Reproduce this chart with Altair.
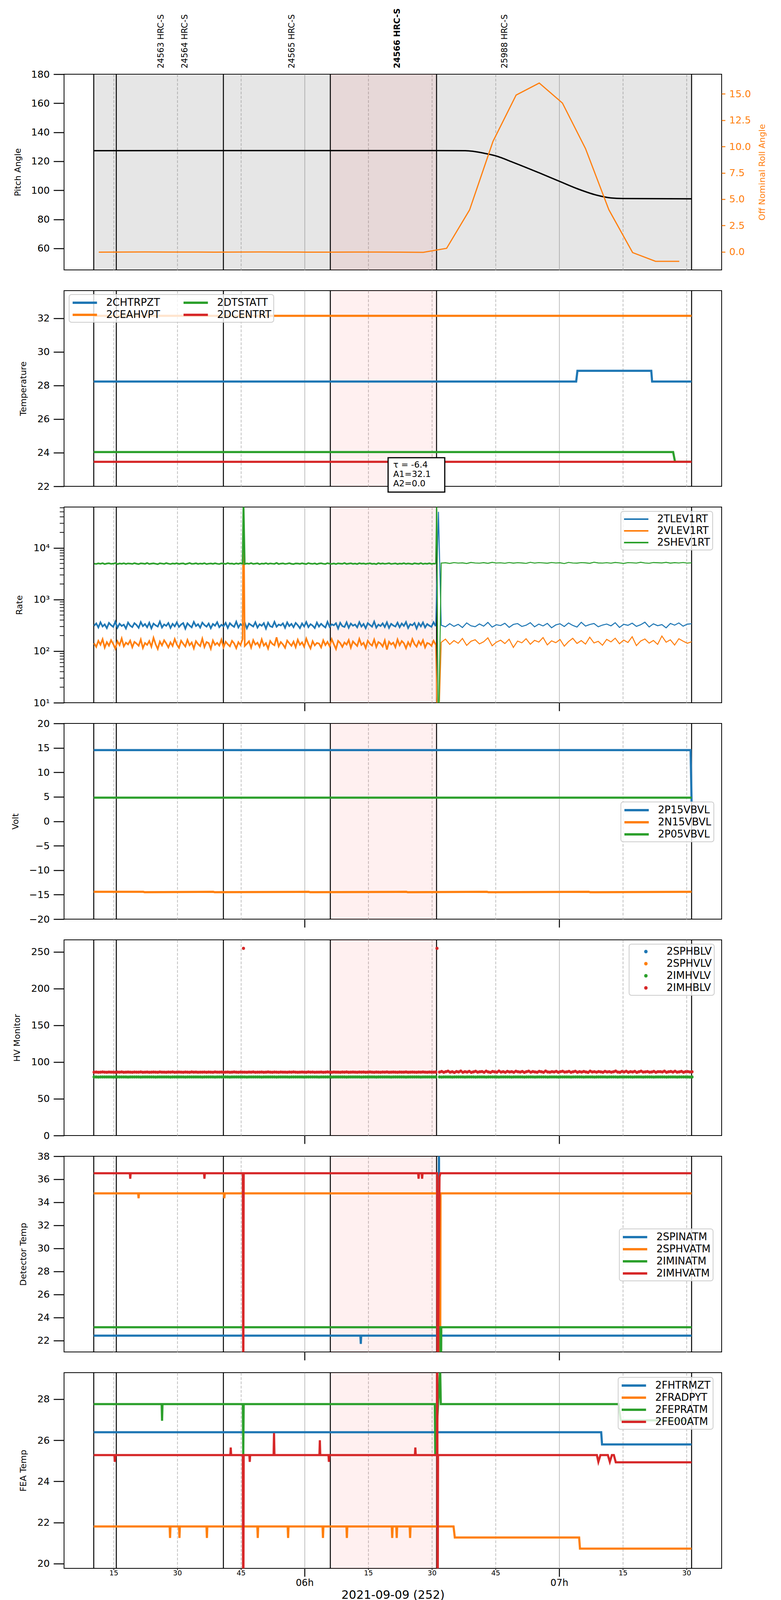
import altair as alt
import pandas as pd

# all times are minutes after 2021-09-09 05:00 (DOY 252)
X_RANGE = [3.31, 158.28]
TICK_MIN = [15, 30, 45, 60, 75, 90, 105, 120, 135, 150]
OBS_EDGE_MIN = [10.31, 15.64, 40.86, 66.07, 91.10, 151.20]
OBS_SPAN_MIN = [10.31, 151.20]
FOCUS_SPAN_MIN = [66.07, 91.10]
OBS_LABELS = ["24563 HRC-S", "24564 HRC-S", "24565 HRC-S", "24566 HRC-S", "25988 HRC-S"]
OBS_LABEL_MIN = [26.2, 31.8, 57.1, 81.9, 107.2]
OBS_LABEL_BOLD = [False, False, False, True, False]

# pitch / roll
PITCH_MIN = [10.31, 40.86, 91.10, 97.87, 102.28, 105.0, 109.3, 115.5, 120.0, 124.3, 128.7, 132.2, 135.0, 151.2]
PITCH_DEG = [127.3, 127.4, 127.4, 127.3, 125.6, 123.8, 119.1, 111.8, 106.3, 101.1, 96.8, 94.8, 94.4, 94.2]
ROLL_MIN = [11.5, 16.96, 22.42, 27.88, 33.34, 38.8, 44.26, 49.72, 55.18, 60.64, 66.1, 71.56, 77.02, 82.48,
            87.96, 93.47, 98.88, 104.4, 109.85, 115.3, 120.76, 126.2, 131.7, 137.3, 142.7, 148.3]
ROLL_DEG = [-0.03, -0.02, -0.01, -0.02, -0.02, -0.03, -0.02, -0.01, -0.02, -0.03, -0.03, -0.02, -0.02, -0.03,
            -0.05, 0.33, 3.98, 10.49, 14.89, 16.03, 14.13, 9.81, 4.0, -0.07, -0.9, -0.9]

# temperatures
CHTRPZT_MIN = [10.31, 124.0, 124.3, 141.7, 141.9, 151.2]
CHTRPZT_VAL = [28.23, 28.23, 28.87, 28.87, 28.23, 28.23]
CEAHVPT_MIN = [10.31, 151.2]
CEAHVPT_VAL = [32.14, 32.14]
DTSTATT_MIN = [10.31, 146.85, 147.3, 151.2]
DTSTATT_VAL = [24.04, 24.04, 23.46, 23.46]
DCENTRT_MIN = [10.31, 151.2]
DCENTRT_VAL = [23.46, 23.46]
FIT_TEXT = ["τ = -6.4", "A1=32.1", "A2=0.0"]

# rates: dense sampling before 06:31, sparse after
SEG1_START, SEG1_STEP = 10.4, 0.5
SEG2_START, SEG2_STEP = 92.2, 1.0
TLEV1RT_1 = [
    310, 345, 288, 362, 301, 330, 279, 352, 318, 296, 371, 284, 340, 307, 326, 275, 358, 312,
    292, 348, 321, 283, 366, 305, 335, 290, 355, 276, 342, 316, 299, 374, 287, 329, 309, 351,
    281, 338, 302, 361, 294, 327, 350, 272, 346, 313, 289, 368, 306, 332, 285, 357, 320, 298,
    343, 278, 336, 311, 364, 291, 325, 303, 353, 282, 347, 315, 295, 372, 288, 334, 308, 359,
    277, 341, 319, 300, 363, 286, 331, 310, 349, 273, 356, 304, 293, 369, 297, 328, 314, 345,
    283, 360, 306, 337, 290, 352, 318, 279, 344, 301, 366, 292, 333, 312, 280, 358, 299, 339,
    309, 287, 370, 296, 330, 317, 348, 275, 354, 305, 294, 362, 284, 342, 311, 328, 289, 365,
    300, 336, 278, 350, 321, 297, 373, 285, 327, 306, 345, 293, 361, 282, 338, 314, 299, 356,
    290, 343, 308, 367, 281, 332, 316, 351, 274, 347, 302, 359, 288, 335, 312, 296, 363, 305]
TLEV1RT_2 = [
    318, 295, 340, 302, 331, 287, 352, 310, 298, 336, 305, 360, 292, 325, 313, 347, 289, 329, 342, 301,
    318, 356, 296, 334, 308, 345, 284, 322, 339, 300, 351, 315, 293, 362, 306, 328, 343, 297, 320, 335,
    309, 355, 288, 331, 316, 348, 302, 325, 364, 294, 338, 311, 327, 283, 344, 319, 352, 305, 333, 340]
VLEV1RT_1 = [
    142, 121, 158, 133, 170, 117, 149, 128, 163, 138, 112, 155, 131, 176, 124, 146, 135, 160,
    119, 151, 140, 127, 168, 115, 144, 132, 157, 122, 181, 136, 110, 153, 129, 162, 141, 118,
    148, 126, 171, 134, 116, 159, 139, 123, 165, 130, 147, 113, 156, 137, 125, 174, 120, 150,
    143, 111, 161, 132, 145, 128, 167, 119, 152, 136, 124, 158, 141, 114, 149, 131, 172, 126,
    139, 155, 117, 163, 134, 146, 121, 169, 128, 143, 112, 157, 138, 130, 185, 124, 150, 135,
    116, 160, 142, 127, 153, 119, 166, 133, 148, 122, 175, 137, 113, 156, 129, 144, 140, 118,
    162, 131, 151, 125, 170, 136, 110, 158, 143, 121, 147, 134, 164, 117, 154, 139, 126, 173,
    132, 145, 115, 159, 138, 128, 167, 120, 150, 141, 123, 161, 107, 152, 135, 146, 119, 168,
    130, 157, 142, 114, 149, 126, 171, 137, 122, 155, 133, 163, 118, 144, 139, 127, 159, 134]
VLEV1RT_2 = [
    148, 171, 135, 160, 142, 176, 129, 155, 166, 138, 152, 181, 127, 149, 163, 140, 170, 118, 157, 145,
    174, 136, 162, 150, 183, 132, 158, 146, 168, 125, 153, 177, 141, 160, 137, 186, 144, 155, 130, 169,
    151, 178, 139, 164, 147, 190, 128, 157, 172, 143, 161, 135, 196, 149, 166, 131, 174, 156, 142, 152]
SHEV1RT_1 = [
    4950, 4890, 5020, 4930, 5060, 4870, 4980, 5040, 4910, 4960, 5090, 4850, 5000, 4920, 5050, 4880, 5010, 4970,
    4900, 5070, 4940, 4860, 5030, 4990, 4910, 5110, 4880, 4960, 5020, 4930, 4840, 5050, 4970, 4900, 5080, 4950,
    4870, 5000, 4920, 5060, 4890, 4980, 5030, 4850, 4960, 5100, 4910, 4940, 5040, 4880, 4990, 4920, 5070, 4860,
    4950, 5010, 4900, 5050, 4930, 4870, 5020, 4970, 4890, 5090, 4940, 4980, 4860, 5030, 4910, 5060, 4950, 4880,
    5000, 4920, 5080, 4900, 4960, 5040, 4850, 4990, 4930, 5070, 4880, 5010, 4950, 4910, 5120, 4870, 4970, 5030,
    4890, 4950, 5060, 4920, 4860, 5010, 4980, 4900, 5050, 4940, 4870, 5090, 4960, 4910, 5020, 4850, 4990, 5040,
    4930, 4880, 5070, 4950, 4900, 5000, 4860, 5030, 4970, 4920, 5100, 4890, 4960, 5040, 4910, 4980, 4870, 5060,
    4940, 5010, 4880, 4990, 5050, 4900, 4960, 4850, 5080, 4930, 5020, 4910, 4970, 5060, 4890, 4950, 5030, 4870,
    4980, 4920, 5070, 4900, 5000, 4940, 4860, 5040, 4960, 4910, 5090, 4880, 4990, 4930, 5050, 4900, 4970, 4950]
SHEV1RT_2 = [
    5080, 5160, 5010, 5200, 5090, 5140, 4990, 5230, 5110, 5060, 5180, 5030, 5250, 5100, 5150, 5040, 5210, 5070, 5170, 5120,
    5020, 5260, 5090, 5190, 5130, 5050, 5220, 5100, 5160, 4980, 5240, 5110, 5070, 5200, 5140, 5030, 5280, 5120, 5090, 5170,
    5060, 5230, 5130, 5010, 5190, 5150, 5080, 5270, 5100, 5040, 5210, 5160, 5120, 5250, 5070, 5180, 5110, 5220, 5090, 5150]
TLEV1RT_SPIKE_MIN, TLEV1RT_SPIKE = [91.55], [5.0e4]
VLEV1RT_SPIKE_MIN, VLEV1RT_SPIKE = [45.6, 91.4], [9.0e4, 1.0]
SHEV1RT_SPIKE_MIN, SHEV1RT_SPIKE = [45.6, 91.15, 91.5], [1.0e5, 1.0e5, 1.0]
RATE_MINOR_TICKS = [20, 30, 40, 50, 60, 70, 80, 90, 200, 300, 400, 500, 600, 700, 800, 900,
                    2000, 3000, 4000, 5000, 6000, 7000, 8000, 9000, 20000, 30000, 40000, 50000, 60000]

# voltages
P15VBVL_MIN = [10.31, 150.96, 151.2]
P15VBVL_VAL = [14.55, 14.55, 3.9]
N15VBVL_MIN = [10.31, 22.0, 22.3, 38.5, 38.8, 61.0, 61.3, 84.0, 84.3, 103.0, 103.3, 127.0, 127.3, 151.2]
N15VBVL_VAL = [-14.42, -14.42, -14.5, -14.42, -14.5, -14.42, -14.5, -14.42, -14.5, -14.42, -14.5, -14.42, -14.5, -14.42]
P05VBVL_MIN = [10.31, 151.2]
P05VBVL_VAL = [4.84, 4.84]

# HV monitors (sampled points, every 30 s)
HV_SEG1_START, HV_SEG2_START, HV_STEP = 10.4, 91.8, 0.5
IMHBLV_1 = [
    86.3, 86.4, 86.2, 86.3, 86.5, 86.3, 86.2, 86.4, 86.3, 86.3, 86.1, 86.4, 86.3, 86.5, 86.2, 86.3, 86.4, 86.3,
    86.2, 86.4, 86.3, 86.3, 86.5, 86.2, 86.3, 86.4, 86.1, 86.3, 86.4, 86.3, 86.2, 86.5, 86.3, 86.3, 86.2, 86.4,
    86.3, 86.5, 86.2, 86.3, 86.4, 86.3, 86.1, 86.4, 86.3, 86.2, 86.5, 86.3, 86.4, 86.2, 86.3, 86.3, 86.4, 86.2,
    86.4, 86.3, 86.2, 86.5, 86.3, 86.3, 86.4, 86.1, 86.3, 86.4, 86.2, 86.3, 86.5, 86.3, 86.2, 86.4, 86.3, 86.3,
    86.2, 86.4, 86.3, 86.5, 86.2, 86.3, 86.3, 86.4, 86.2, 86.3, 86.6, 86.3, 86.2, 86.4, 86.3, 86.1, 86.4, 86.3,
    86.3, 86.2, 86.4, 86.3, 86.5, 86.3, 86.2, 86.3, 86.4, 86.3, 86.2, 86.5, 86.3, 86.4, 86.2, 86.3, 86.3, 86.4,
    86.2, 86.3, 86.5, 86.3, 86.2, 86.4, 86.3, 86.3, 86.1, 86.4, 86.3, 86.5, 86.2, 86.3, 86.4, 86.3, 86.2, 86.4,
    86.3, 86.4, 86.2, 86.3, 86.5, 86.3, 86.2, 86.4, 86.3, 86.2, 86.4, 86.3, 86.5, 86.2, 86.3, 86.4, 86.3, 86.2,
    86.4, 86.3, 86.3, 86.5, 86.2, 86.3, 86.4, 86.3, 86.2, 86.4, 86.3, 86.5, 86.3, 86.2, 86.4, 86.3, 86.3, 86.4]
IMHBLV_2 = [
    86.4, 87.2, 86.1, 86.9, 87.6, 86.3, 86.8, 85.9, 87.1, 86.5, 87.7, 86.2, 86.9, 86.4, 87.3, 86.0, 86.7, 87.5, 86.3, 86.8,
    87.1, 86.2, 87.6, 86.5, 86.0, 87.2, 86.7, 86.3, 87.8, 86.4, 86.9, 86.1, 87.4, 86.6, 87.0, 86.2, 87.5, 86.8, 86.4, 87.2,
    86.0, 86.9, 87.6, 86.3, 87.1, 86.5, 86.2, 87.4, 86.8, 86.1, 87.7, 86.6, 86.3, 87.0, 86.5, 87.3, 86.2, 86.9, 87.5, 86.4,
    86.7, 87.3, 86.2, 86.8, 87.5, 86.1, 86.9, 86.4, 87.2, 86.6, 86.0, 87.6, 86.5, 86.9, 86.3, 87.1, 86.7, 86.2, 87.4, 86.5,
    87.0, 86.3, 86.8, 87.7, 86.4, 86.1, 87.2, 86.6, 87.5, 86.2, 86.9, 86.5, 87.3, 86.0, 86.8, 87.6, 86.4, 86.7, 87.1, 86.3,
    86.6, 87.4, 86.2, 86.9, 87.0, 86.5, 87.6, 86.1, 86.8, 87.2, 86.4, 87.5, 86.3, 86.7, 87.3, 86.2, 86.9, 87.1, 86.5, 86.8]
IMHBLV_OUTLIER_MIN, IMHBLV_OUTLIER = [45.6, 91.2], [254.8, 254.8]
IMHVLV_1 = [
    79.7, 79.7, 79.6, 79.7, 79.7, 79.8, 79.7, 79.7, 79.7, 79.6, 79.7, 79.7, 79.8, 79.7, 79.7, 79.7, 79.6, 79.7,
    79.7, 79.8, 79.7, 79.7, 79.6, 79.7, 79.7, 79.7, 79.8, 79.7, 79.7, 79.6, 79.7, 79.7, 79.7, 79.8, 79.7, 79.7,
    79.6, 79.7, 79.7, 79.7, 79.8, 79.7, 79.7, 79.6, 79.7, 79.7, 79.7, 79.8, 79.7, 79.7, 79.7, 79.6, 79.7, 79.7,
    79.7, 79.8, 79.7, 79.6, 79.7, 79.7, 79.7, 79.7, 79.8, 79.7, 79.6, 79.7, 79.7, 79.7, 79.8, 79.7, 79.7, 79.7,
    79.6, 79.7, 79.7, 79.8, 79.7, 79.7, 79.7, 79.6, 79.7, 79.7, 79.8, 79.7, 79.7, 79.7, 79.6, 79.7, 79.7, 79.8,
    79.7, 79.7, 79.6, 79.7, 79.7, 79.7, 79.8, 79.7, 79.7, 79.6, 79.7, 79.7, 79.7, 79.8, 79.7, 79.7, 79.6, 79.7,
    79.7, 79.7, 79.8, 79.7, 79.6, 79.7, 79.7, 79.7, 79.8, 79.7, 79.7, 79.6, 79.7, 79.7, 79.7, 79.8, 79.7, 79.7,
    79.6, 79.7, 79.7, 79.7, 79.8, 79.7, 79.7, 79.6, 79.7, 79.7, 79.8, 79.7, 79.7, 79.7, 79.6, 79.7, 79.7, 79.7,
    79.8, 79.7, 79.7, 79.6, 79.7, 79.7, 79.7, 79.8, 79.7, 79.7, 79.6, 79.7, 79.7, 79.7, 79.8, 79.7, 79.7, 79.7]
IMHVLV_2 = [
    79.7, 79.6, 79.7, 79.8, 79.7, 79.7, 79.6, 79.7, 79.7, 79.8, 79.7, 79.7, 79.6, 79.7, 79.8, 79.7, 79.7, 79.6, 79.7, 79.7,
    79.8, 79.7, 79.6, 79.7, 79.7, 79.7, 79.8, 79.7, 79.6, 79.7, 79.7, 79.8, 79.7, 79.7, 79.6, 79.7, 79.7, 79.8, 79.7, 79.7,
    79.6, 79.7, 79.8, 79.7, 79.7, 79.6, 79.7, 79.7, 79.8, 79.7, 79.7, 79.6, 79.7, 79.8, 79.7, 79.7, 79.6, 79.7, 79.7, 79.8,
    79.7, 79.7, 79.6, 79.7, 79.8, 79.7, 79.7, 79.7, 79.6, 79.7, 79.8, 79.7, 79.7, 79.6, 79.7, 79.7, 79.8, 79.7, 79.7, 79.6,
    79.7, 79.8, 79.7, 79.7, 79.6, 79.7, 79.7, 79.8, 79.7, 79.7, 79.7, 79.6, 79.7, 79.8, 79.7, 79.7, 79.6, 79.7, 79.7, 79.8,
    79.7, 79.6, 79.7, 79.7, 79.8, 79.7, 79.7, 79.6, 79.7, 79.7, 79.8, 79.7, 79.6, 79.7, 79.7, 79.7, 79.8, 79.7, 79.6, 79.7]

# detector temperatures
SPINATM_MIN = [10.31, 73.15, 73.25, 73.35, 91.55, 91.66, 91.77, 151.2]
SPINATM_VAL = [22.42, 22.42, 21.7, 22.42, 22.42, 40.0, 22.42, 22.42]
SPHVATM_MIN = [10.31, 20.79, 20.89, 20.99, 40.99, 41.09, 41.19, 91.83, 91.93, 92.03, 151.2]
SPHVATM_VAL = [34.78, 34.78, 34.35, 34.78, 34.78, 34.35, 34.78, 34.78, 15.0, 34.78, 34.78]
IMINATM_MIN = [10.31, 92.02, 92.12, 92.22, 151.2]
IMINATM_VAL = [23.15, 23.15, 15.0, 23.15, 23.15]
IMHVATM_MIN = [10.31, 18.81, 18.91, 19.01, 36.3, 36.4, 36.5, 45.45, 45.55, 45.65, 86.77, 86.87, 86.97,
               87.6, 87.7, 87.8, 91.23, 91.33, 91.8, 92.0, 151.2]
IMHVATM_VAL = [36.52, 36.52, 36.05, 36.52, 36.52, 36.05, 36.52, 36.52, 15.0, 36.52, 36.52, 36.05, 36.52,
               36.52, 36.05, 36.52, 36.52, 15.0, 36.2, 36.52, 36.52]

# FEA temperatures
FHTRMZT_MIN = [10.31, 129.9, 130.1, 151.2]
FHTRMZT_VAL = [26.39, 26.39, 25.80, 25.80]
FRADPYT_MIN = [10.31, 28.2, 28.3, 28.4, 30.42, 30.52, 30.62, 36.88, 36.98, 37.08, 48.86, 48.96, 49.06,
               56.02, 56.12, 56.22, 64.23, 64.33, 64.43, 69.87, 69.97, 70.07, 80.55, 80.65, 80.75,
               81.61, 81.71, 81.81, 84.77, 84.87, 84.97, 95.1, 95.4, 124.7, 124.9, 151.2]
FRADPYT_VAL = [21.81, 21.81, 21.25, 21.81, 21.81, 21.25, 21.81, 21.81, 21.25, 21.81, 21.81, 21.25, 21.81,
               21.81, 21.25, 21.81, 21.81, 21.25, 21.81, 21.81, 21.25, 21.81, 21.81, 21.25, 21.81,
               21.81, 21.25, 21.81, 21.81, 21.25, 21.81, 21.81, 21.27, 21.27, 20.73, 20.73]
FEPRATM_MIN = [10.31, 26.31, 26.41, 26.51, 45.45, 45.55, 45.65, 90.7, 90.8, 91.95, 92.1, 134.0, 134.5, 151.2]
FEPRATM_VAL = [27.76, 27.76, 26.95, 27.76, 27.76, 25.3, 27.76, 27.76, 25.3, 29.5, 27.76, 27.76, 26.97, 26.97]
FE00ATM_MIN = [10.31, 15.18, 15.28, 15.38, 42.5, 42.6, 42.7, 45.45, 45.55, 45.65, 46.98, 47.08, 47.18,
               52.7, 52.8, 52.9, 63.5, 63.6, 63.7, 65.64, 65.74, 65.84, 86.0, 86.1, 86.2,
               91.2, 91.25, 91.35, 91.45, 128.89, 129.24, 129.71, 131.47, 131.94, 132.41, 132.88, 133.34, 151.2]
FE00ATM_VAL = [25.28, 25.28, 24.95, 25.28, 25.28, 25.65, 25.28, 25.28, 15.0, 25.28, 25.28, 24.95, 25.28,
               25.28, 26.35, 25.28, 25.28, 26.0, 25.28, 25.28, 24.95, 25.28, 25.28, 25.65, 25.28,
               25.28, 35.0, 15.0, 25.28, 25.28, 24.95, 25.28, 25.28, 24.95, 25.28, 25.28, 24.93, 24.93]

BLUE, ORANGE, GREEN, RED = "#1f77b4", "#ff7f0e", "#2ca02c", "#d62728"
# the page is photographed ~4096 px tall, so the stack is squeezed vertically to fit
PW, PH, GAP = 1684, 501, 53
HOUR = "minutes(datum.value) == 0"
FONT = "DejaVu Sans"


def stamp(m):
    s = int(round(m * 60))
    return f"2021-09-09T{5 + s // 3600:02d}:{(s % 3600) // 60:02d}:{s % 60:02d}"


def clock(m):
    s = int(round(m * 60))
    return alt.DateTime(year=2021, month=9, date=9, hours=5 + s // 3600,
                        minutes=(s % 3600) // 60, seconds=s % 60)


def series(name, mins, vals):
    return pd.DataFrame({"t": [stamp(m) for m in mins], "value": vals, "msid": name})


def sampled(name, seg1, seg2, start1, start2, step1, step2, extra_min=(), extra_val=()):
    # dense part and sparse part are tagged so they can be drawn with different weights
    m1 = [start1 + step1 * i for i in range(len(seg1))]
    m2 = [start2 + step2 * i for i in range(len(seg2))]
    end1 = m1[-1]
    ex1 = [(m, v) for m, v in zip(extra_min, extra_val) if m <= end1]
    ex2 = [(m, v) for m, v in zip(extra_min, extra_val) if m > end1]
    dense = series(name, m1 + [m for m, _ in ex1], list(seg1) + [v for _, v in ex1])
    dense["seg"] = "dense"
    sparse = series(name, [end1] + [m for m, _ in ex2] + m2, [seg1[-1]] + [v for _, v in ex2] + list(seg2))
    sparse["seg"] = "sparse"
    return pd.concat([dense.sort_values("t"), sparse.sort_values("t")])


def x_enc(field, kind):
    axis = dict(values=[clock(m) for m in TICK_MIN], domain=False, grid=True,
                gridColor="#b0b0b0", gridWidth=1.6,
                gridDash={"condition": {"test": HOUR, "value": []}, "value": [7, 4]},
                title=None, labels=False, ticks=False)
    if kind in ("major", "full"):
        axis.update(ticks=True, tickColor="black", tickWidth=2.5,
                    tickSize={"condition": {"test": HOUR, "value": 21}, "value": 0})
    if kind == "full":
        axis.update(labels=True, labelColor="black", labelFont=FONT,
                    tickSize={"condition": {"test": HOUR, "value": 21}, "value": 3},
                    labelExpr="minutes(datum.value) == 0 ? timeFormat(datum.value, '%Hh') : timeFormat(datum.value, '%M')",
                    labelFontSize={"condition": {"test": HOUR, "value": 24}, "value": 18},
                    labelPadding={"condition": {"test": HOUR, "value": 4}, "value": 0},
                    title="2021-09-09 (252)", titleFont=FONT, titleFontSize=30,
                    titleFontWeight="normal", titlePadding=4)
    return alt.X(f"{field}:T", scale=alt.Scale(domain=[clock(X_RANGE[0]), clock(X_RANGE[1])]),
                 axis=alt.Axis(**axis))


def y_enc(field, domain, values, title, title_x, scale_type="linear", label_expr=None):
    axis = dict(values=values, title=title, titleX=title_x, titleBaseline="middle",
                titleFont=FONT, titleFontSize=22, titleFontWeight="normal",
                labelFont=FONT, labelFontSize=25, labelPadding=10, labelColor="black",
                tickSize=27, tickWidth=2.5, tickColor="black", domain=False, grid=False)
    if label_expr:
        axis["labelExpr"] = label_expr
    return alt.Y(f"{field}:Q", scale=alt.Scale(type=scale_type, domain=domain, nice=False, zero=False),
                 axis=alt.Axis(**axis))


def line_legend(x, y, width=6, columns=1):
    opts = dict(title=None, orient="none", legendX=x, legendY=y, labelFont=FONT, labelFontSize=26,
                labelLimit=400, symbolType="M-1,0H4.2", symbolSize=576, symbolStrokeWidth=width,
                labelOffset=59, rowPadding=3, padding=6, strokeColor="#cccccc",
                fillColor="rgba(255,255,255,0.8)", cornerRadius=6)
    if columns > 1:
        opts.update(columns=columns, columnPadding=48)
    return alt.Legend(**opts)


def backdrop(kind, grey=False):
    layers = []
    if grey:
        span = pd.DataFrame({"t0": [stamp(OBS_SPAN_MIN[0])], "t1": [stamp(OBS_SPAN_MIN[1])]})
        layers.append(alt.Chart(span).mark_rect(color="#808080", opacity=0.2).encode(
            x=x_enc("t0", kind), x2="t1", y=alt.value(0), y2=alt.value(PH)))
    focus = pd.DataFrame({"t0": [stamp(FOCUS_SPAN_MIN[0])], "t1": [stamp(FOCUS_SPAN_MIN[1])]})
    layers.append(alt.Chart(focus).mark_rect(color="#ff0000", opacity=0.06).encode(
        x=x_enc("t0", kind), x2="t1", y=alt.value(0), y2=alt.value(PH)))
    edges = pd.DataFrame({"t": [stamp(m) for m in OBS_EDGE_MIN]})
    layers.append(alt.Chart(edges).mark_rule(color="black", strokeWidth=2.5).encode(x=x_enc("t", kind)))
    return layers


def msid_color(domain, colors, legend):
    return alt.Color("msid:N", scale=alt.Scale(domain=domain, range=colors), legend=legend)


# ---- panel 1: pitch and roll ----
PITCH_DOM = [45.2, 180]
ROLL_DOM = [-1.72, 16.87]
pitch_df = pd.DataFrame({"t": [stamp(m) for m in PITCH_MIN], "pitch": PITCH_DEG})
roll_df = pd.DataFrame({"t": [stamp(m) for m in ROLL_MIN], "roll": ROLL_DEG})
obs_df = pd.DataFrame({"t": [stamp(m) for m in OBS_LABEL_MIN], "label": OBS_LABELS, "bold": OBS_LABEL_BOLD})

pitch_line = alt.Chart(pitch_df).mark_line(color="black", strokeWidth=3.5, interpolate="monotone").encode(
    x=x_enc("t", "none"),
    y=y_enc("pitch", PITCH_DOM, [60, 80, 100, 120, 140, 160, 180], "Pitch Angle", -119))
roll_line = alt.Chart(roll_df).mark_line(color=ORANGE, strokeWidth=3).encode(
    x=x_enc("t", "none"),
    y=alt.Y("roll:Q", scale=alt.Scale(domain=ROLL_DOM, nice=False, zero=False),
            axis=alt.Axis(orient="right", values=[0, 2.5, 5, 7.5, 10, 12.5, 15], format=".1f",
                          title="Off Nominal Roll Angle", titleColor=ORANGE, titleAngle=270,
                          titleX=103, titleBaseline="middle", titleFont=FONT, titleFontSize=22,
                          titleFontWeight="normal", labelFont=FONT, labelFontSize=25,
                          labelColor=ORANGE, labelPadding=10, tickColor=ORANGE, tickSize=9,
                          tickWidth=2.5, domain=False, grid=False)))
obs_text = alt.Chart(obs_df).transform_filter("!datum.bold").mark_text(
    angle=270, align="left", baseline="middle", fontSize=21, font=FONT, color="black").encode(
    x=x_enc("t", "none"), y=alt.value(-15), text="label:N")
obs_text_bold = alt.Chart(obs_df).transform_filter("datum.bold").mark_text(
    angle=270, align="left", baseline="middle", fontSize=21, font=FONT, fontWeight="bold",
    color="black").encode(x=x_enc("t", "none"), y=alt.value(-15), text="label:N")

panel1 = alt.layer(*backdrop("none", grey=True), pitch_line, roll_line, obs_text, obs_text_bold).resolve_scale(
    y="independent").properties(width=PW, height=PH)

# ---- panel 2: temperatures ----
TEMP_DOM = [22, 33.64]
temp_df = pd.concat([
    series("2CHTRPZT", CHTRPZT_MIN, CHTRPZT_VAL),
    series("2CEAHVPT", CEAHVPT_MIN, CEAHVPT_VAL),
    series("2DTSTATT", DTSTATT_MIN, DTSTATT_VAL),
    series("2DCENTRT", DCENTRT_MIN, DCENTRT_VAL)])


def temp_y(f):
    return y_enc(f, TEMP_DOM, [22, 24, 26, 28, 30, 32], "Temperature", -105)


temp_lines = alt.Chart(temp_df).mark_line(strokeWidth=5.5).encode(
    x=x_enc("t", "none"), y=temp_y("value"),
    color=msid_color(["2CHTRPZT", "2CEAHVPT", "2DTSTATT", "2DCENTRT"], [BLUE, ORANGE, GREEN, RED],
                     line_legend(13, 10, columns=2)))
fit_box = alt.Chart(pd.DataFrame({"t0": [stamp(79.69)], "t1": [stamp(93.04)], "v0": [23.70], "v1": [21.66]})
                    ).mark_rect(fill="white", stroke="black", strokeWidth=3).encode(
    x=x_enc("t0", "none"), x2="t1", y=temp_y("v0"), y2="v1")
fit_text = alt.Chart(pd.DataFrame({"t": [stamp(80.89)] * 3, "v": [23.27, 22.71, 22.16], "label": FIT_TEXT})
                     ).mark_text(align="left", baseline="middle", fontSize=22, font=FONT, color="black").encode(
    x=x_enc("t", "none"), y=temp_y("v"), text="label:N")
panel2 = alt.layer(*backdrop("none"), temp_lines, fit_box, fit_text).properties(width=PW, height=PH)

# ---- panel 3: rates ----
RATE_DOM = [10, 62000]
rate_df = pd.concat([
    sampled("2TLEV1RT", TLEV1RT_1, TLEV1RT_2, SEG1_START, SEG2_START, SEG1_STEP, SEG2_STEP,
            TLEV1RT_SPIKE_MIN, TLEV1RT_SPIKE),
    sampled("2VLEV1RT", VLEV1RT_1, VLEV1RT_2, SEG1_START, SEG2_START, SEG1_STEP, SEG2_STEP,
            VLEV1RT_SPIKE_MIN, VLEV1RT_SPIKE),
    sampled("2SHEV1RT", SHEV1RT_1, SHEV1RT_2, SEG1_START, SEG2_START, SEG1_STEP, SEG2_STEP,
            SHEV1RT_SPIKE_MIN, SHEV1RT_SPIKE)])
SUPER = "datum.value == 10 ? '10¹' : datum.value == 100 ? '10²' : datum.value == 1000 ? '10³' : '10⁴'"


def rate_y(f):
    return y_enc(f, RATE_DOM, [10, 100, 1000, 10000], "Rate", -115, scale_type="log", label_expr=SUPER)


rate_lines = alt.Chart(rate_df).mark_line(clip=True).encode(
    x=x_enc("t", "major"), y=rate_y("value"),
    color=msid_color(["2TLEV1RT", "2VLEV1RT", "2SHEV1RT"], [BLUE, ORANGE, GREEN], line_legend(1426, 11, width=4)),
    strokeWidth=alt.StrokeWidth("seg:O", scale=alt.Scale(domain=["dense", "sparse"], range=[4.2, 2.6]),
                                legend=None))
rate_minor = alt.Chart(pd.DataFrame({"v": RATE_MINOR_TICKS})).mark_rule(color="black", strokeWidth=1.8).encode(
    y=rate_y("v"), x=alt.value(-11), x2=alt.value(0))
panel3 = alt.layer(*backdrop("major"), rate_lines, rate_minor).properties(width=PW, height=PH)

# ---- panel 4: voltages ----
volt_df = pd.concat([
    series("2P15VBVL", P15VBVL_MIN, P15VBVL_VAL),
    series("2N15VBVL", N15VBVL_MIN, N15VBVL_VAL),
    series("2P05VBVL", P05VBVL_MIN, P05VBVL_VAL)])
volt_lines = alt.Chart(volt_df).mark_line(strokeWidth=5.5, clip=True).encode(
    x=x_enc("t", "major"),
    y=y_enc("value", [-20, 20], [-20, -15, -10, -5, 0, 5, 10, 15, 20], "Volt", -125),
    color=msid_color(["2P15VBVL", "2N15VBVL", "2P05VBVL"], [BLUE, ORANGE, GREEN], line_legend(1426, 201)))
panel4 = alt.layer(*backdrop("major"), volt_lines).properties(width=PW, height=PH)

# ---- panel 5: HV monitors ----
hv_df = pd.concat([
    sampled("2IMHVLV", IMHVLV_1, IMHVLV_2, HV_SEG1_START, HV_SEG2_START, HV_STEP, HV_STEP),
    sampled("2IMHBLV", IMHBLV_1, IMHBLV_2, HV_SEG1_START, HV_SEG2_START, HV_STEP, HV_STEP,
            IMHBLV_OUTLIER_MIN, IMHBLV_OUTLIER)])
hv_points = alt.Chart(hv_df).mark_circle(size=64, opacity=1).encode(
    x=x_enc("t", "major"),
    y=y_enc("value", [0, 266.4], [0, 50, 100, 150, 200, 250], "HV Monitor", -121),
    color=msid_color(["2SPHBLV", "2SPHVLV", "2IMHVLV", "2IMHBLV"], [BLUE, ORANGE, GREEN, RED],
                     alt.Legend(title=None, orient="none", legendX=1447, legendY=11, labelFont=FONT,
                                labelFontSize=26, labelLimit=400, symbolSize=80, symbolOffset=24,
                                labelOffset=40, rowPadding=5, padding=6, strokeColor="#cccccc",
                                fillColor="rgba(255,255,255,0.8)", cornerRadius=6)))
panel5 = alt.layer(*backdrop("major"), hv_points).properties(width=PW, height=PH)

# ---- panel 6: detector temperatures ----
det_df = pd.concat([
    series("2SPINATM", SPINATM_MIN, SPINATM_VAL),
    series("2SPHVATM", SPHVATM_MIN, SPHVATM_VAL),
    series("2IMINATM", IMINATM_MIN, IMINATM_VAL),
    series("2IMHVATM", IMHVATM_MIN, IMHVATM_VAL)])
det_lines = alt.Chart(det_df).mark_line(strokeWidth=5.5, clip=True).encode(
    x=x_enc("t", "major"),
    y=y_enc("value", [21, 38], [22, 24, 26, 28, 30, 32, 34, 36, 38], "Detector Temp", -105),
    color=msid_color(["2SPINATM", "2SPHVATM", "2IMINATM", "2IMHVATM"], [BLUE, ORANGE, GREEN, RED],
                     line_legend(1422, 186)))
panel6 = alt.layer(*backdrop("major"), det_lines).properties(width=PW, height=PH)

# ---- panel 7: FEA temperatures ----
fea_df = pd.concat([
    series("2FHTRMZT", FHTRMZT_MIN, FHTRMZT_VAL),
    series("2FRADPYT", FRADPYT_MIN, FRADPYT_VAL),
    series("2FEPRATM", FEPRATM_MIN, FEPRATM_VAL),
    series("2FE00ATM", FE00ATM_MIN, FE00ATM_VAL)])
fea_lines = alt.Chart(fea_df).mark_line(strokeWidth=5.5, clip=True).encode(
    x=x_enc("t", "full"),
    y=y_enc("value", [19.77, 29.29], [20, 22, 24, 26, 28], "FEA Temp", -105),
    color=msid_color(["2FHTRMZT", "2FRADPYT", "2FEPRATM", "2FE00ATM"], [BLUE, ORANGE, GREEN, RED],
                     line_legend(1419, 12)))
panel7 = alt.layer(*backdrop("full"), fea_lines).properties(width=PW, height=PH)

chart = alt.vconcat(panel1, panel2, panel3, panel4, panel5, panel6, panel7, spacing=GAP, bounds="flush"
                    ).resolve_scale(color="independent").properties(
    padding={"left": 19, "top": 12, "right": 12, "bottom": 0}
).configure(font=FONT).configure_view(stroke="black", strokeWidth=2).configure_legend(strokeWidth=2)

chart.save("out.html", embed_options={"renderer": "svg", "actions": False})
